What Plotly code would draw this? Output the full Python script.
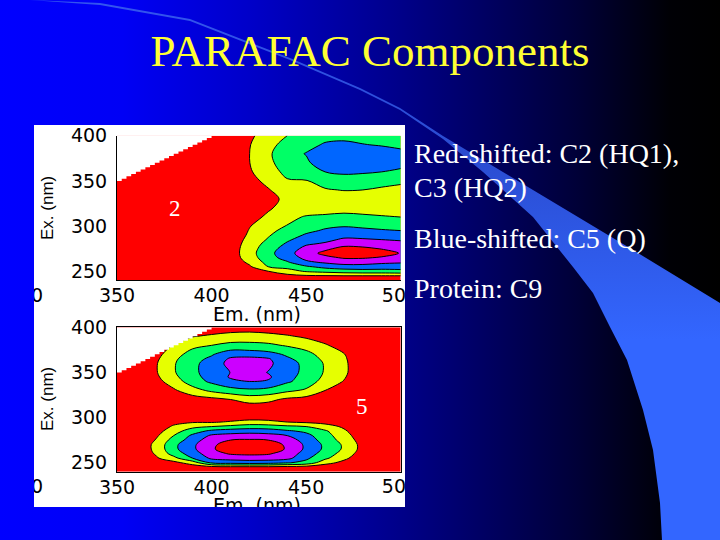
import plotly.graph_objects as go

# Ejes de los mapas EEM
ex_c2 = [240, 245, 250, 255, 260, 265, 270, 275, 280, 285, 290, 295, 300, 310, 320, 330, 340, 350, 360, 370, 380, 390, 400]
ex_c5 = [240, 245, 250, 255, 260, 265, 270, 275, 280, 285, 290, 295, 300, 310, 320, 330, 340, 345, 350, 360, 365, 370, 380, 390, 400]
em_c2 = [350, 410, 420, 430, 440, 450, 460, 470, 480, 490, 500]
em_c5 = [350, 360, 370, 380, 390, 400, 410, 420, 430, 440, 450, 460, 470, 480, 490, 500]

# Valores, una lista por cada longitud de onda de emision
c2_columns = [
    [0] * 23,
    [0, .05, .1, .2, .35, .42, .45, .45, .4, .35, .3, .28, .25, .2, .15, .15, .15, .2, .25, .3, .3, .25, .2],
    [0, .2, .5, .85, 1.2, 1.5, 1.6, 1.55, 1.45, 1.3, 1.15, 1.05, .95, .7, .55, .5, .6, .75, .9, .98, .99, .95, .8],
    [.1, .5, 1, 2.0, 2.35, 2.6, 2.7, 2.55, 2.35, 2.1, 1.9, 1.7, 1.55, 1.15, .9, .8, .95, 1.2, 1.5, 1.75, 1.85, 1.7, 1.5],
    [.2, .7, 1.6, 2.3, 2.9, 3.4, 3.6, 3.45, 3.15, 2.85, 2.6, 2.35, 2.05, 1.7, 1.3, 1.15, 1.4, 1.9, 2.3, 2.55, 2.6, 2.35, 2.0],
    [.3, .9, 2.1, 2.85, 3.8, 4.3, 4.6, 4.3, 3.9, 3.45, 3.1, 2.8, 2.6, 2.1, 1.4, 1.2, 1.55, 1.95, 2.4, 2.8, 3.05, 2.7, 2.4],
    [.4, .95, 2.3, 3.3, 4.15, 4.75, 5.25, 4.8, 4.15, 3.75, 3.45, 3.1, 2.85, 2.2, 1.5, 1.35, 1.9, 2.45, 3.0, 3.65, 3.65, 3.1, 2.7],
    [.5, 1, 2.5, 3.55, 4.45, 5.1, 5.7, 5.3, 4.7, 4.15, 3.7, 3.3, 2.95, 2.3, 1.6, 1.4, 2.05, 2.6, 3.15, 3.7, 3.7, 3.15, 2.8],
    [.5, 1, 2.6, 3.6, 4.4, 5.1, 5.7, 5.2, 4.65, 4.1, 3.65, 3.2, 2.85, 2.2, 1.55, 1.35, 2.0, 2.55, 3.1, 3.7, 3.7, 3.05, 2.55],
    [.5, 1, 2.6, 3.5, 4.2, 4.9, 5.4, 4.95, 4.4, 4.0, 3.55, 3.1, 2.7, 2.1, 1.45, 1.25, 1.8, 2.45, 3.0, 3.6, 3.6, 2.9, 2.5],
    [.5, 1, 2.7, 3.5, 4.1, 4.7, 4.95, 4.7, 4.3, 3.9, 3.45, 3.0, 2.65, 2.0, 1.45, 1.25, 1.7, 2.2, 2.8, 3.35, 3.35, 2.7, 2.3],
]
c5_columns = [
    [0] * 25,
    [0, 0, .05, .2, .3, .35, .35, .3, .2, .1, .05, 0, 0, 0, 0, .05, .1, .15, .2, .2, .15, .1, .05, 0, 0],
    [0, 0, .3, .8, 1.05, 1.15, 1.15, 1, .75, .5, .3, .2, .1, .05, .1, .3, .6, .75, .85, .85, .75, .6, .3, .1, 0],
    [0, .2, .7, 1.7, 2.4, 2.75, 2.75, 2.4, 2, 1.6, 1.15, .7, .3, .1, .3, .85, 1.5, 1.75, 1.9, 1.9, 1.8, 1.6, 1.1, .55, .2],
    [0, .4, 1.5, 3, 3.5, 3.8, 3.8, 3.5, 3.2, 2.5, 1.75, .9, .4, .2, .5, 1.6, 2.5, 2.7, 2.8, 2.8, 2.65, 2.4, 1.75, .95, .3],
    [0, .6, 3.2, 4.2, 4.6, 4.9, 4.85, 4.6, 4.15, 3.25, 2, .9, .45, .3, .7, 2.2, 3.2, 3.35, 3.4, 3.35, 3.2, 2.9, 2, 1.15, .4],
    [0, .7, 3.4, 4.4, 5.1, 5.4, 5.35, 5, 4.35, 3.5, 2.25, 1.1, .5, .35, 1.0, 2.6, 3.8, 4.1, 4.02, 4.35, 4.15, 3.6, 2.3, 1.35, .5],
    [0, .7, 3.5, 4.5, 5.2, 5.7, 5.6, 5.1, 4.45, 3.6, 2.5, 1.35, .6, .4, 1.4, 2.8, 4, 4.4, 4.5, 4.55, 4.3, 3.55, 2.3, 1.4, .55],
    [0, .7, 3.4, 4.5, 5.1, 5.5, 5.45, 5, 4.35, 3.5, 2.45, 1.25, .6, .4, 1.25, 2.65, 3.9, 4.15, 3.95, 4.25, 4.1, 3.35, 2.2, 1.3, .45],
    [0, .6, 3.1, 4.3, 4.6, 4.9, 4.85, 4.55, 4, 3.15, 2.2, 1, .5, .3, .8, 2.2, 3.15, 3.25, 3.3, 3.3, 3.15, 2.85, 1.9, 1.1, .35],
    [0, .5, 2.7, 3.2, 3.55, 3.8, 3.8, 3.55, 3.3, 2.8, 2, .85, .4, .2, .6, 1.85, 2.55, 2.7, 2.8, 2.8, 2.6, 2.35, 1.55, .85, .3],
    [0, .3, 1.4, 2.2, 2.55, 2.8, 2.8, 2.6, 2.4, 2.15, 1.4, .7, .3, .1, .4, 1, 1.6, 1.8, 1.9, 1.9, 1.75, 1.55, 1.1, .55, .2],
    [0, .1, .7, 1.25, 1.6, 1.85, 1.85, 1.6, 1.4, 1.15, .85, .4, .15, .05, .1, .5, .95, 1.1, 1.2, 1.2, 1.15, 1.05, .6, .25, .05],
    [0, 0, .1, .3, .5, .65, .65, .55, .4, .3, .2, .1, 0, 0, 0, .05, .15, .2, .25, .25, .2, .15, .05, 0, 0],
    [0] * 25,
    [0] * 25,
]

# Zona sin datos (dispersion de Rayleigh), en escalera
mask_em = [350, 352.5, 355, 357.5, 360, 362.5, 365, 367.5, 370, 372.5, 375, 377.5, 380, 382.5, 385, 387.5, 390, 392.5, 395, 397.5, 400, 350]
mask_ex = [350, 352.5, 355, 357.5, 360, 362.5, 365, 367.5, 370, 372.5, 375, 377.5, 380, 382.5, 385, 387.5, 390, 392.5, 395, 397.5, 400, 400]

# Colores por nivel de contorno
BANDS = ['#FF0000', '#E6FF00', '#00FF66', '#0066FF', '#CC00FF', '#FF0000']
TICK_FONT = dict(family='DejaVu Sans', size=19, color='black')
SERIF = 'Liberation Serif'

# Fondo de la diapositiva, en pixeles de la pagina
page_x = [0, 720, 720, 0, 0]
page_y = [0, 0, 540, 540, 0]
swoosh_x = [30, 100, 190, 290, 360, 400, 443, 533, 633, 720, 720, 662, 660, 653, 643, 627, 610, 593, 573, 533, 483, 443, 400, 360, 290, 190, 100, 30]
swoosh_y = [0, 3, 19, 58, 88, 108, 136, 190, 250, 303, 540, 540, 503, 450, 410, 360, 327, 293, 267, 217, 172, 139, 110, 90, 60, 21, 5, 0]
box_x = [34, 405, 405, 34, 34]
box_y = [125, 125, 507, 507, 125]


def colorscale():
    n = len(BANDS)
    scale = []
    for i, color in enumerate(BANDS):
        scale += [[i / n, color], [(i + 1) / n, color]]
    return scale


def px_x(x):
    return x / 720


def px_y(y):
    return 1 - y / 540


def contour(em, ex, columns, xaxis, yaxis):
    return go.Contour(x=em, y=ex, z=[list(row) for row in zip(*columns)],
                      xaxis=xaxis, yaxis=yaxis,
                      zmin=0, zmax=6, autocontour=False,
                      contours=dict(start=1, end=5, size=1, coloring='fill'),
                      colorscale=colorscale(), showscale=False,
                      line=dict(color='black', width=1), hoverinfo='skip')


def mask(xaxis, yaxis):
    return go.Scatter(x=mask_em, y=mask_ex, xaxis=xaxis, yaxis=yaxis, mode='none',
                      fill='toself', fillcolor='white', hoverinfo='skip', line=dict(shape='hv'))


fig = go.Figure()

# Degradado de fondo, franja clara y recuadro blanco
fig.add_trace(go.Scatter(x=page_x, y=page_y, mode='none', fill='toself', hoverinfo='skip',
                         fillgradient=dict(type='horizontal', start=0, stop=720,
                                           colorscale=[[0, '#0000FF'], [0.17, '#0000F5'], [0.35, '#0000C8'],
                                                       [0.56, '#000088'], [0.8, '#000038'], [0.93, '#000005'], [1, '#000000']])))
fig.add_trace(go.Scatter(x=swoosh_x, y=swoosh_y, mode='none', fill='toself', hoverinfo='skip',
                         fillgradient=dict(type='vertical', start=0, stop=340,
                                           colorscale=[[0, '#3355F0'], [0.45, '#2A4CD0'], [1, '#3366FF']])))
fig.add_trace(go.Scatter(x=box_x, y=box_y, mode='none', fill='toself', fillcolor='white', hoverinfo='skip'))

# Mapas C2 y C5
fig.add_trace(contour(em_c2, ex_c2, c2_columns, 'x2', 'y2'))
fig.add_trace(mask('x2', 'y2'))
fig.add_trace(contour(em_c5, ex_c5, c5_columns, 'x3', 'y3'))
fig.add_trace(mask('x3', 'y3'))

# Rotulos recortados por el recuadro blanco (se usa el recorte del eje)
fig.add_trace(go.Scatter(x=[25, 400, 25, 400, 257, 257], y=[297, 297, 488, 488, 316, 507],
                         text=['300', '500', '300', '500', 'Em. (nm)', 'Em. (nm)'],
                         xaxis='x4', yaxis='y4', mode='text', textposition='middle center',
                         textfont=TICK_FONT, cliponaxis=True, hoverinfo='skip'))

axis_off = dict(visible=False, fixedrange=True)
panel_x = dict(range=[350, 500], domain=[px_x(117), px_x(400.7)],
               tickvals=[350, 400, 450], tickfont=TICK_FONT,
               ticks='', ticklabelstandoff=-2, showgrid=False, zeroline=False,
               linecolor='black', linewidth=1, showline=True)
panel_y = dict(range=[240, 400], tickvals=[250, 300, 350, 400], tickfont=TICK_FONT,
               ticks='outside', ticklen=5, tickcolor='rgba(0,0,0,0)', showgrid=False, zeroline=False,
               linecolor='black', linewidth=1, showline=True)

fig.update_layout(
    width=720, height=540, autosize=False,
    margin=dict(l=0, r=0, t=0, b=0, pad=0, autoexpand=False),
    paper_bgcolor='#000080', plot_bgcolor='rgba(0,0,0,0)',
    showlegend=False,
    title=dict(text='PARAFAC Components', x=370 / 720, xanchor='center', y=px_y(50), yanchor='middle',
               font=dict(family=SERIF, size=45, color='#FFFF33')),
    xaxis=dict(range=[0, 720], domain=[0, 1], **axis_off),
    yaxis=dict(range=[540, 0], domain=[0, 1], **axis_off),
    xaxis2=dict(anchor='y2', **panel_x),
    yaxis2=dict(anchor='x2', domain=[px_y(280.3), px_y(135.7)], **panel_y),
    xaxis3=dict(anchor='y3', mirror=True, **panel_x),
    yaxis3=dict(anchor='x3', domain=[px_y(471.7), px_y(327.3)], mirror=True, **panel_y),
    xaxis4=dict(range=[34, 405], domain=[px_x(34), px_x(405)], anchor='y4', **axis_off),
    yaxis4=dict(range=[507, 125], domain=[px_y(507), px_y(125)], anchor='x4', **axis_off),
)

# Texto de la diapositiva
notes = [
    ('Red-shifted: C2 (HQ1),', 412, 153),
    ('C3 (HQ2)', 412, 188),
    ('Blue-shifted: C5 (Q)', 412, 238),
    ('Protein: C9', 412, 288),
]
for text, x, y in notes:
    fig.add_annotation(text=text, x=px_x(x), y=px_y(y), xref='paper', yref='paper',
                       xanchor='left', yanchor='middle', showarrow=False,
                       font=dict(family=SERIF, size=28, color='white'))

for text, x, y in [('2', 175, 208), ('5', 362, 406)]:
    fig.add_annotation(text=text, x=px_x(x), y=px_y(y), xref='paper', yref='paper',
                       xanchor='center', yanchor='middle', showarrow=False,
                       font=dict(family=SERIF, size=23, color='white'))

for y in [208, 399]:
    fig.add_annotation(text='Ex. (nm)', x=px_x(47), y=px_y(y), xref='paper', yref='paper',
                       xanchor='center', yanchor='middle', textangle=-90, showarrow=False,
                       font=dict(family='Liberation Sans', size=17, color='black'))

# Sin margen en la pagina para que la figura ocupe toda la ventana
fig.write_html("out.html", post_script="document.body.style.margin='0';",
               config=dict(displayModeBar=False))
